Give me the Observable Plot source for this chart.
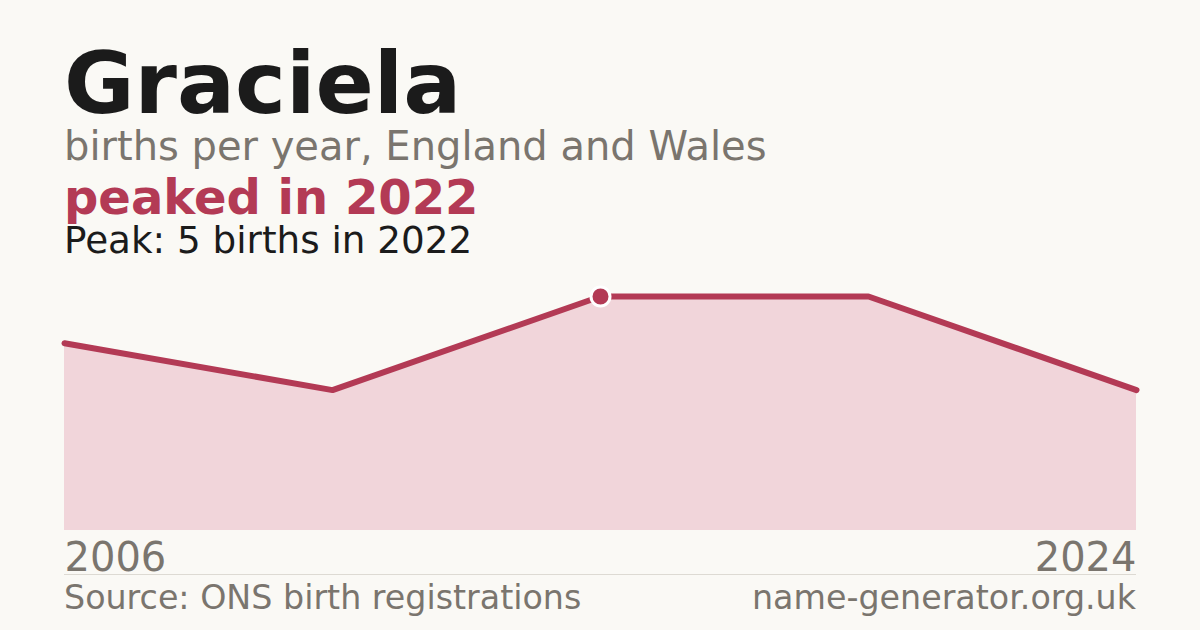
<!DOCTYPE html>
<html>
<head>
<meta charset="utf-8">
<script src="https://cdn.jsdelivr.net/npm/d3@7"></script>
<script src="https://cdn.jsdelivr.net/npm/@observablehq/plot@0.6"></script>
<style>
  html, body { margin: 0; padding: 0; background: #faf9f5; }
  body { width: 1200px; height: 630px; position: relative; overflow: hidden; font-family: "DejaVu Sans", sans-serif; }
  .t { position: absolute; left: 64px; line-height: 0.8; white-space: nowrap; }
  #title { top: 49px; font-size: 86px; font-weight: bold; color: #1b1b1b; }
  #sub { top: 129.5px; font-size: 40px; color: #7a756e; }
  #peaked { top: 177.5px; font-size: 48px; font-weight: bold; color: #b33a55; }
  #peak { top: 225.5px; font-size: 37.3px; color: #1b1b1b; }
  #chart { position: absolute; left: 0; top: 270px; }
  #sep { position: absolute; left: 64px; width: 1072px; top: 574px; height: 1px; background: #dddad3; }
  .foot { position: absolute; top: 585px; font-size: 33.3px; line-height: 0.8; color: #7a756e; white-space: nowrap; }
  #src { left: 64px; }
  #site { right: 64px; }
</style>
</head>
<body>
<div class="t" id="title"></div>
<div class="t" id="sub"></div>
<div class="t" id="peaked"></div>
<div class="t" id="peak"></div>
<div id="chart"></div>
<div id="sep"></div>
<div class="foot" id="src"></div>
<div class="foot" id="site"></div>
<script>
const name = "Graciela";
const subtitle = "births per year, England and Wales";
const years = ["2006", "2020", "2022", "2023", "2024"];
const births = [4, 3, 5, 5, 3];
const peakYear = "2022";
const peakValue = 5;
const source = "Source: ONS birth registrations";
const site = "name-generator.org.uk";

document.getElementById("title").textContent = name;
document.getElementById("sub").textContent = subtitle;
document.getElementById("peaked").textContent = "peaked in " + peakYear;
document.getElementById("peak").textContent = `Peak: ${peakValue} births in ${peakYear}`;
document.getElementById("src").textContent = source;
document.getElementById("site").textContent = site;

const data = years.map((y, i) => ({year: y, value: births[i]}));
const peak = data.filter(d => d.year === peakYear);
const first = [data[0]];
const last = [data[data.length - 1]];

const red = "#b33a55";
const chart = Plot.plot({
  width: 1200,
  height: 310,
  marginLeft: 64,
  marginRight: 64,
  marginTop: 26,
  marginBottom: 50,
  style: {background: "transparent", fontFamily: "DejaVu Sans", overflow: "visible"},
  x: {type: "point", domain: years, padding: 0, axis: null},
  y: {domain: [0, 5], axis: null},
  marks: [
    Plot.areaY(data, {x: "year", y: "value", fill: "#f1d5da", curve: "linear"}),
    Plot.lineY(data, {x: "year", y: "value", stroke: red, strokeWidth: 6, curve: "linear", strokeLinejoin: "miter"}),
    Plot.dot(peak, {x: "year", y: "value", r: 9.5, fill: red, stroke: "#ffffff", strokeWidth: 3}),
    Plot.text(first, {x: "year", y: 0, text: "year", textAnchor: "start", lineAnchor: "bottom", dy: 40, fontSize: 40, fill: "#7a756e"}),
    Plot.text(last, {x: "year", y: 0, text: "year", textAnchor: "end", lineAnchor: "bottom", dy: 40, fontSize: 40, fill: "#7a756e"})
  ]
});
document.getElementById("chart").appendChild(chart);
</script>
</body>
</html>
